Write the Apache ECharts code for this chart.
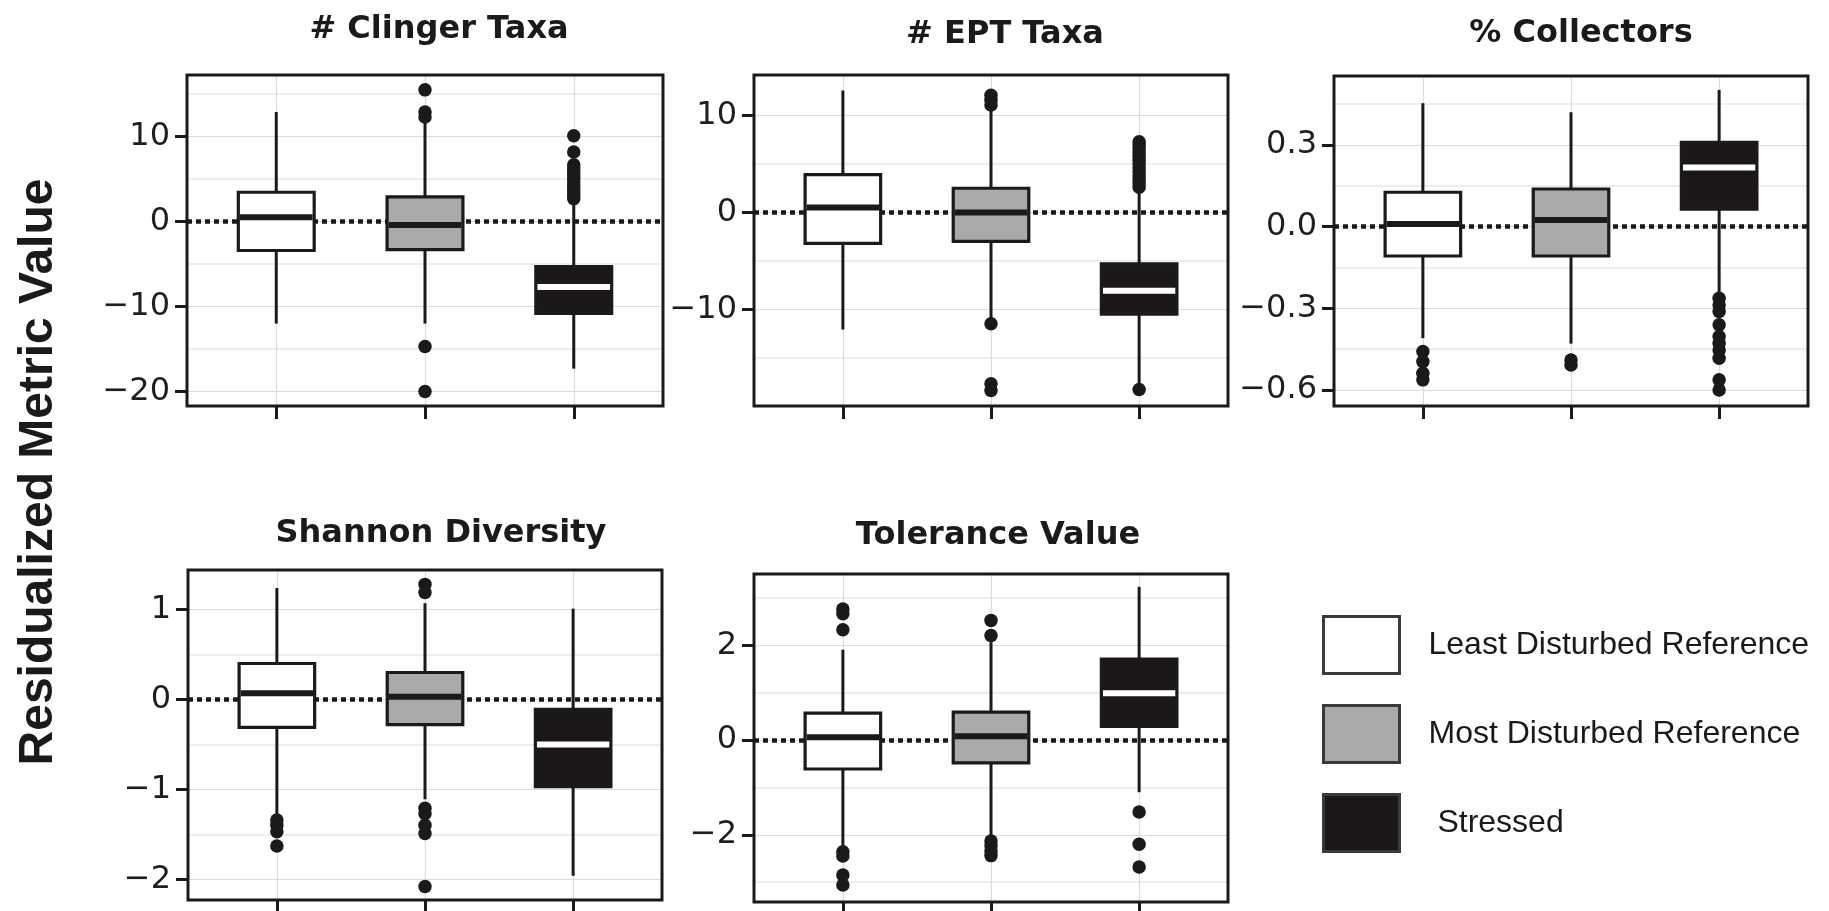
<!DOCTYPE html>
<html><head><meta charset="utf-8">
<script src="https://cdn.jsdelivr.net/npm/echarts@6/dist/echarts.min.js"></script>
<style>html,body{margin:0;padding:0;background:#fff}#c{width:1829px;height:911px}</style>
</head><body><div id="c"></div>
<script>
// ---------------- DATA ----------------
const groups = ['Least Disturbed Reference', 'Most Disturbed Reference', 'Stressed'];
const panelTitles = ['# Clinger Taxa', '# EPT Taxa', '% Collectors', 'Shannon Diversity', 'Tolerance Value'];
const yAxisTitle = 'Residualized Metric Value';
const zeroLine = 0;
const categoryPositions = [1, 2, 3];

// box stats per group: [lower whisker, Q1, median, Q3, upper whisker]
const clingerBox = [[-12.0, -3.4, 0.5, 3.45, 12.9], [-12.0, -3.3, -0.4, 2.9, 12.0], [-17.3, -10.8, -7.7, -5.3, 2.3]];
const clingerOut = [[], [15.5, 12.9, 12.3, -14.7, -20.0], [10.1, 8.2, 6.7, 6.3, 5.9, 5.5, 5.1, 4.7, 4.3, 3.9, 3.5, 3.1, 2.7]];
const clingerTicks = [-20, -10, 0, 10];
const clingerMinor = [-15, -5, 5, 15];
const clingerRange = [-21.7, 17.25];

const eptBox = [[-12.1, -3.2, 0.5, 3.9, 12.6], [-11.0, -3.0, 0.0, 2.5, 10.9], [-17.9, -10.5, -8.1, -5.3, 2.1]];
const eptOut = [[], [12.1, 11.6, 11.1, -11.5, -17.7, -18.4], [7.3, 7.0, 6.6, 6.2, 5.8, 5.4, 5.0, 4.6, 4.2, 3.8, 3.4, 3.0, 2.6, -18.3]];
const eptTicks = [-10, 0, 10];
const eptMinor = [-15, -5, 5];
const eptRange = [-20.0, 14.2];

const collBox = [[-0.41, -0.108, 0.009, 0.126, 0.453], [-0.43, -0.108, 0.024, 0.138, 0.42], [-0.25, 0.064, 0.217, 0.309, 0.502]];
const collOut = [[-0.459, -0.496, -0.539, -0.563], [-0.49, -0.508], [-0.263, -0.288, -0.312, -0.361, -0.404, -0.429, -0.453, -0.484, -0.563, -0.60]];
const collTicks = [-0.6, -0.3, 0.0, 0.3];
const collMinor = [-0.45, -0.15, 0.15, 0.45];
const collRange = [-0.659, 0.553];

const shanBox = [[-1.31, -0.31, 0.07, 0.40, 1.24], [-1.11, -0.28, 0.03, 0.30, 1.07], [-1.96, -0.97, -0.50, -0.11, 1.01]];
const shanOut = [[-1.34, -1.40, -1.47, -1.63], [1.28, 1.19, -1.21, -1.27, -1.40, -1.49, -2.08], []];
const shanTicks = [-2, -1, 0, 1];
const shanMinor = [-1.5, -0.5, 0.5];
const shanRange = [-2.23, 1.44];

const tolBox = [[-2.27, -0.61, 0.06, 0.57, 1.91], [-2.06, -0.48, 0.08, 0.59, 2.07], [-1.10, 0.29, 0.99, 1.71, 3.24]];
const tolOut = [[2.77, 2.67, 2.33, -2.36, -2.45, -2.85, -3.06], [2.53, 2.21, -2.13, -2.23, -2.34, -2.44], [-1.52, -2.20, -2.68]];
const tolTicks = [-2, 0, 2];
const tolMinor = [-3, -1, 1, 3];
const tolRange = [-3.42, 3.51];

// ---------------- STYLE / LAYOUT ----------------
const fills = ['#ffffff', '#a9a9a9', '#1c1818'];
const medianColors = ['#1a1a1a', '#1a1a1a', '#ffffff'];
const INK = '#1a1a1a';
const BOX_W = 0.51;

const panels = [
  { title: panelTitles[0], range: clingerRange, ticks: clingerTicks, minor: clingerMinor, dec: 0, box: clingerBox, out: clingerOut,
    grid: { left: 187, top: 75, width: 476, height: 331 }, tpos: [439, 29.5] },
  { title: panelTitles[1], range: eptRange, ticks: eptTicks, minor: eptMinor, dec: 0, box: eptBox, out: eptOut,
    grid: { left: 754, top: 75, width: 474, height: 331 }, tpos: [1005, 35] },
  { title: panelTitles[2], range: collRange, ticks: collTicks, minor: collMinor, dec: 1, box: collBox, out: collOut,
    grid: { left: 1334, top: 76, width: 474, height: 330 }, tpos: [1581, 34] },
  { title: panelTitles[3], range: shanRange, ticks: shanTicks, minor: shanMinor, dec: 0, box: shanBox, out: shanOut,
    grid: { left: 188, top: 570, width: 474, height: 330 }, tpos: [441, 534] },
  { title: panelTitles[4], range: tolRange, ticks: tolTicks, minor: tolMinor, dec: 0, box: tolBox, out: tolOut,
    grid: { left: 754, top: 574, width: 474, height: 328 }, tpos: [998, 535.5] }
];

function makeRender(k) {
  return function (params, api) {
    const x = api.value(0);
    const lo = api.coord([x, api.value(1)]);
    const q1 = api.coord([x, api.value(2)]);
    const md = api.coord([x, api.value(3)]);
    const q3 = api.coord([x, api.value(4)]);
    const hi = api.coord([x, api.value(5)]);
    const half = api.size([BOX_W, 0])[0] / 2;
    const cx = md[0];
    return {
      type: 'group',
      children: [
        { type: 'line', shape: { x1: cx, y1: hi[1], x2: cx, y2: q3[1] }, style: { stroke: INK, lineWidth: 3 } },
        { type: 'line', shape: { x1: cx, y1: q1[1], x2: cx, y2: lo[1] }, style: { stroke: INK, lineWidth: 3 } },
        { type: 'rect', shape: { x: cx - half, y: q3[1], width: half * 2, height: q1[1] - q3[1] },
          style: { fill: fills[k], stroke: INK, lineWidth: 3.2 } },
        { type: 'line', shape: { x1: cx - half + 1.6, y1: md[1], x2: cx + half - 1.6, y2: md[1] },
          style: { stroke: medianColors[k], lineWidth: 6 } }
      ]
    };
  };
}

const grids = [], xAxes = [], yAxes = [], series = [];
const labelFont = { fontSize: 32, fontFamily: 'DejaVu Sans', color: '#1e1e1e' };

panels.forEach(function (p, i) {
  grids.push(Object.assign({}, p.grid, { show: true, borderColor: INK, borderWidth: 3, backgroundColor: 'transparent', z: 10 }));
  xAxes.push({
    gridIndex: i, type: 'value', min: 0.4, max: 3.6,
    axisLine: { show: false, onZero: false },
    axisTick: { show: true, length: 13, lineStyle: { width: 3, color: INK }, customValues: categoryPositions },
    axisLabel: { show: false, customValues: categoryPositions },
    splitLine: { show: true, lineStyle: { color: '#dcdcdc', width: 1.2 } }
  });
  yAxes.push({
    gridIndex: i, type: 'value', min: p.range[0], max: p.range[1], position: 'left',
    axisLine: { show: false, onZero: false },
    axisTick: { show: true, length: 12, lineStyle: { width: 3, color: INK }, customValues: p.ticks },
    axisLabel: Object.assign({ customValues: p.ticks, margin: 17,
      formatter: function (v) { return Number(v).toFixed(p.dec).replace('-', '\u2212'); } }, labelFont),
    splitLine: { show: true, lineStyle: { color: '#dcdcdc', width: 1.2 } }
  });
  yAxes.push({
    gridIndex: i, type: 'value', min: p.range[0], max: p.range[1], position: 'right',
    axisLine: { show: false, onZero: false },
    axisTick: { show: false, customValues: p.minor },
    axisLabel: { show: false, customValues: p.minor },
    splitLine: { show: true, lineStyle: { color: '#eeeeee', width: 2 } }
  });
  series.push({
    type: 'line', xAxisIndex: i, yAxisIndex: 2 * i, data: [], silent: true, z: 1,
    markLine: { z: 1, silent: true, symbol: ['none', 'none'], label: { show: false },
      lineStyle: { color: INK, width: 4.5, type: [5, 4] }, data: [{ yAxis: zeroLine }] }
  });
  groups.forEach(function (g, k) {
    series.push({
      type: 'custom', name: g, xAxisIndex: i, yAxisIndex: 2 * i, z: 3, silent: true,
      itemStyle: { color: fills[k], borderColor: INK },
      renderItem: makeRender(k),
      encode: { x: 0, y: [1, 2, 3, 4, 5] },
      data: [[categoryPositions[k]].concat(p.box[k])]
    });
    series.push({
      type: 'scatter', xAxisIndex: i, yAxisIndex: 2 * i, z: 4, silent: true,
      symbol: 'circle', symbolSize: 13.5, itemStyle: { color: INK, opacity: 1 },
      data: p.out[k].map(function (v) { return [categoryPositions[k], v]; })
    });
  });
});

const graphics = panels.map(function (p) {
  return { type: 'text', x: p.tpos[0], y: p.tpos[1], silent: true,
    style: { text: p.title, fontFamily: 'DejaVu Sans', fontWeight: 'bold', fontSize: 32, fill: INK,
      align: 'center', verticalAlign: 'middle', textAlign: 'center', textVerticalAlign: 'middle' } };
});
graphics.push({ type: 'text', x: 38.5, y: 472, rotation: Math.PI / 2, silent: true,
  style: { text: yAxisTitle, fontFamily: 'Liberation Sans', fontWeight: 'bold', fontSize: 48, fill: INK,
    align: 'center', verticalAlign: 'middle', textAlign: 'center', textVerticalAlign: 'middle' } });

const chart = echarts.init(document.getElementById('c'), null, { renderer: 'canvas' });
chart.setOption({
  animation: false,
  backgroundColor: '#ffffff',
  grid: grids,
  xAxis: xAxes,
  yAxis: yAxes,
  legend: {
    orient: 'vertical', left: 1317, top: 610, itemWidth: 76, itemHeight: 57, itemGap: 29,
    icon: 'rect', selectedMode: false,
    data: groups.map(function (g, k) {
      return { name: g, itemStyle: { color: fills[k], borderColor: '#3a3a3a', borderWidth: 3 } };
    }),
    formatter: function (n) { return n === 'Stressed' ? ' Stressed' : n; },
    textStyle: { fontSize: 32, fontFamily: 'Liberation Sans', color: INK, padding: [0, 0, 4, 24] }
  },
  graphic: graphics,
  series: series
});
</script>
</body></html>
